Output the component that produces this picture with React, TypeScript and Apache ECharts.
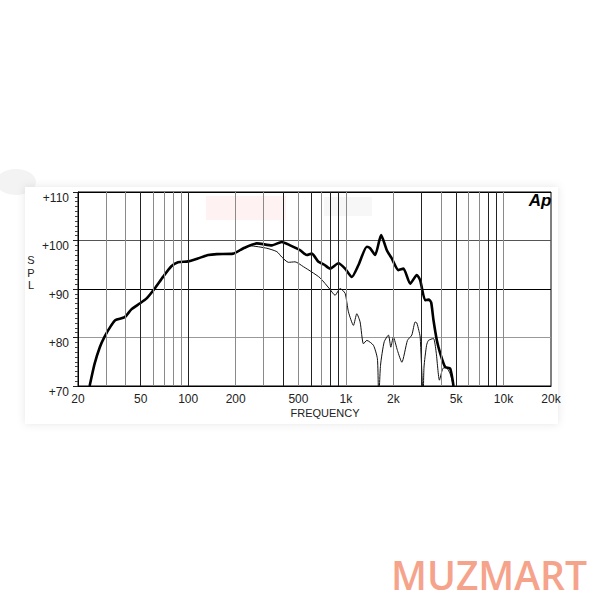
import React, { useEffect, useRef } from "react";
import * as echarts from "echarts";

// On-axis response (thick line): frequency in Hz, SPL in dB
const thickFreq = [23.7, 25.5, 27.5, 29.5, 32.5, 34.5, 39.6, 43.6, 49.2, 54.3, 61.3, 69.2, 78.2, 86.2, 99.7, 115, 134, 152, 193, 224, 272, 339, 392, 443, 512, 565, 608, 670, 730, 794, 897, 989, 1091, 1200, 1358, 1425, 1533, 1673, 1819, 1955, 2154, 2318, 2558, 2818, 2960, 3183, 3349, 3472, 3594, 3777, 3970, 4265, 4586, 4815];
const thickSpl = [70, 74.6, 78.0, 80.2, 82.5, 83.6, 84.2, 85.8, 87.0, 88.0, 90.1, 92.5, 94.7, 95.5, 95.7, 96.3, 97.0, 97.2, 97.3, 98.4, 99.4, 99.0, 99.7, 99.0, 98.0, 97.0, 97.3, 95.6, 95.0, 94.2, 95.3, 94.2, 92.5, 94.9, 98.7, 98.4, 97.0, 101.1, 98.0, 96.3, 93.9, 94.2, 91.1, 92.9, 91.8, 87.7, 87.8, 87.3, 83.6, 79.4, 76.7, 73.9, 73.6, 70];

// Off-axis response (thin line)
const thinFreq = [23.7, 25.5, 27.5, 29.5, 32.5, 34.5, 39.6, 43.6, 49.2, 54.3, 61.3, 69.2, 78.2, 86.2, 99.7, 115, 134, 152, 193, 224, 247, 315, 365, 392, 432, 476, 538, 608, 686, 794, 854, 919, 989, 1038, 1117, 1173, 1231, 1292, 1358, 1495, 1585, 1615, 1659, 1750, 1862, 1928, 2000, 2125, 2265, 2458, 2620, 2750, 2818, 2900, 2960, 3060, 3090, 3130, 3250, 3340, 3594, 3737, 3922, 4119, 4326, 4586, 4815];
const thinSpl = [70, 74.6, 78.0, 80.2, 82.5, 83.6, 84.2, 85.8, 87.0, 88.0, 90.1, 92.5, 94.7, 95.5, 95.7, 96.3, 97.0, 97.2, 97.3, 98.3, 98.9, 98.4, 97.7, 96.6, 95.5, 95.6, 94.6, 93.5, 92.3, 89.9, 88.7, 90.1, 89.1, 85.3, 82.5, 84.9, 83.2, 78.7, 79.4, 78.4, 75.6, 67, 74.3, 79.1, 80.5, 78.0, 80.1, 77.3, 74.9, 79.4, 80.5, 83.2, 83.0, 81.5, 80.1, 70, 67, 73.9, 78.4, 79.4, 79.8, 77.0, 71.2, 73.6, 73.8, 72.5, 70];

const xLabelValues = [20, 50, 100, 200, 500, 1000, 2000, 5000, 10000, 20000];
const xLabelTexts = ["20", "50", "100", "200", "500", "1k", "2k", "5k", "10k", "20k"];
const xGridValues = [30, 40, 50, 60, 70, 80, 90, 100, 200, 300, 400, 500, 600, 700, 800, 900, 1000, 2000, 3000, 4000, 5000, 6000, 7000, 8000, 9000, 10000];
const xGridDark = [50, 100, 400, 600, 800, 900, 3000, 5000, 8000, 9000];

const yMin = 70;
const yMax = 110;
const yStep = 10;

export default function App() {
  const ref = useRef<HTMLDivElement>(null);

  useEffect(() => {
    if (!ref.current) return;
    const chart = echarts.init(ref.current, null, { renderer: "svg" });

    const labelFor = (v: number) => {
      let best = 0;
      let bestD = Infinity;
      xLabelValues.forEach((lv, i) => {
        const d = Math.abs(Math.log10(lv) - Math.log10(v));
        if (d < bestD) {
          bestD = d;
          best = i;
        }
      });
      return xLabelTexts[best];
    };

    const option: any = {
      animation: false,
      backgroundColor: "#ffffff",
      grid: {
        left: 78,
        top: 192,
        width: 473,
        height: 194,
        show: true,
        borderColor: "#000",
        borderWidth: 1,
        backgroundColor: "transparent",
      },
      xAxis: {
        type: "log",
        logBase: 10,
        min: 20,
        max: 20000,
        axisLine: { show: true, lineStyle: { color: "#000", width: 1 } },
        axisTick: { show: false },
        splitLine: { show: false },
        minorTick: { show: false },
        minorSplitLine: { show: false },
        axisLabel: {
          customValues: xLabelValues,
          formatter: (v: number) => labelFor(v),
          color: "#222",
          fontSize: 12,
          fontFamily: "Liberation Sans, Arial, sans-serif",
          margin: 7,
        },
      },
      yAxis: {
        type: "value",
        min: yMin,
        max: yMax,
        interval: yStep,
        axisLine: { show: true, lineStyle: { color: "#000", width: 1 } },
        axisTick: { show: true, length: 5, lineStyle: { color: "#222" } },
        minorTick: { show: true, splitNumber: 10, length: 3, lineStyle: { color: "#444" } },
        splitLine: {
          show: true,
          lineStyle: { color: ["#000", "#999", "#000", "#555", "#000"], width: 1 },
        },
        axisLabel: {
          formatter: (v: number) => "+" + v,
          color: "#222",
          fontSize: 12,
          lineHeight: 11,
          verticalAlign: "top",
          fontFamily: "Liberation Sans, Arial, sans-serif",
          margin: 9,
        },
      },
      series: [
        {
          type: "line",
          data: [],
          z: 1,
          silent: true,
          markLine: {
            silent: true,
            symbol: "none",
            label: { show: false },
            animation: false,
            data: xGridValues.map((v) => ({
              xAxis: v,
              lineStyle: {
                color: xGridDark.indexOf(v) >= 0 ? "#222" : "#8a8a8a",
                width: 1,
                type: "solid",
              },
            })),
          },
        },
        {
          type: "line",
          name: "off-axis",
          data: thinFreq.map((f, i) => [f, thinSpl[i]]),
          showSymbol: false,
          symbol: "none",
          smooth: 0.2,
          clip: true,
          z: 3,
          lineStyle: { color: "#111", width: 1 },
        },
        {
          type: "line",
          name: "on-axis",
          data: thickFreq.map((f, i) => [f, thickSpl[i]]),
          showSymbol: false,
          symbol: "none",
          smooth: 0.2,
          clip: true,
          z: 4,
          lineStyle: { color: "#000", width: 2.6 },
        },
      ],
      graphic: [
        {
          type: "rect",
          z: -10,
          shape: { x: 25, y: 187, width: 533, height: 237 },
          style: { fill: "#fff", shadowBlur: 8, shadowColor: "rgba(0,0,0,0.10)" },
        },
        {
          type: "ellipse",
          z: -20,
          shape: { cx: 16, cy: 182, rx: 20, ry: 13 },
          style: { fill: "#f3f3f3" },
        },
        {
          type: "rect",
          z: -5,
          shape: { x: 206, y: 196, width: 80, height: 24 },
          style: { fill: "#fef3f2" },
        },
        {
          type: "rect",
          z: -5,
          shape: { x: 324, y: 197, width: 48, height: 19 },
          style: { fill: "#f7f7f7" },
        },
        {
          type: "text",
          x: 31,
          y: 254,
          style: {
            text: "S\nP\nL",
            fill: "#222",
            fontSize: 11,
            lineHeight: 12.5,
            fontFamily: "Liberation Sans, Arial, sans-serif",
            align: "center",
            verticalAlign: "top",
          },
        },
        {
          type: "text",
          x: 325,
          y: 413,
          style: {
            text: "FREQUENCY",
            fill: "#222",
            fontSize: 11,
            fontFamily: "Liberation Sans Narrow, Liberation Sans, Arial, sans-serif",
            align: "center",
            verticalAlign: "middle",
          },
        },
        {
          type: "text",
          x: 540,
          y: 200,
          style: {
            text: "Ap",
            fill: "#000",
            fontSize: 17,
            fontWeight: "bold",
            fontStyle: "italic",
            fontFamily: "Liberation Sans, Arial, sans-serif",
            align: "center",
            verticalAlign: "middle",
          },
        },
        {
          type: "text",
          x: 489,
          y: 574,
          style: {
            text: "MUZMART",
            fill: "#f6a38c",
            fontSize: 39,
            fontWeight: 600,
            fontFamily: "Open Sans, Noto Sans, sans-serif",
            align: "center",
            verticalAlign: "middle",
          },
        },
      ],
    };

    chart.setOption(option);
    return () => chart.dispose();
  }, []);

  return (
    <div
      ref={ref}
      style={{ position: "fixed", left: 0, top: 0, width: 600, height: 600 }}
    />
  );
}
